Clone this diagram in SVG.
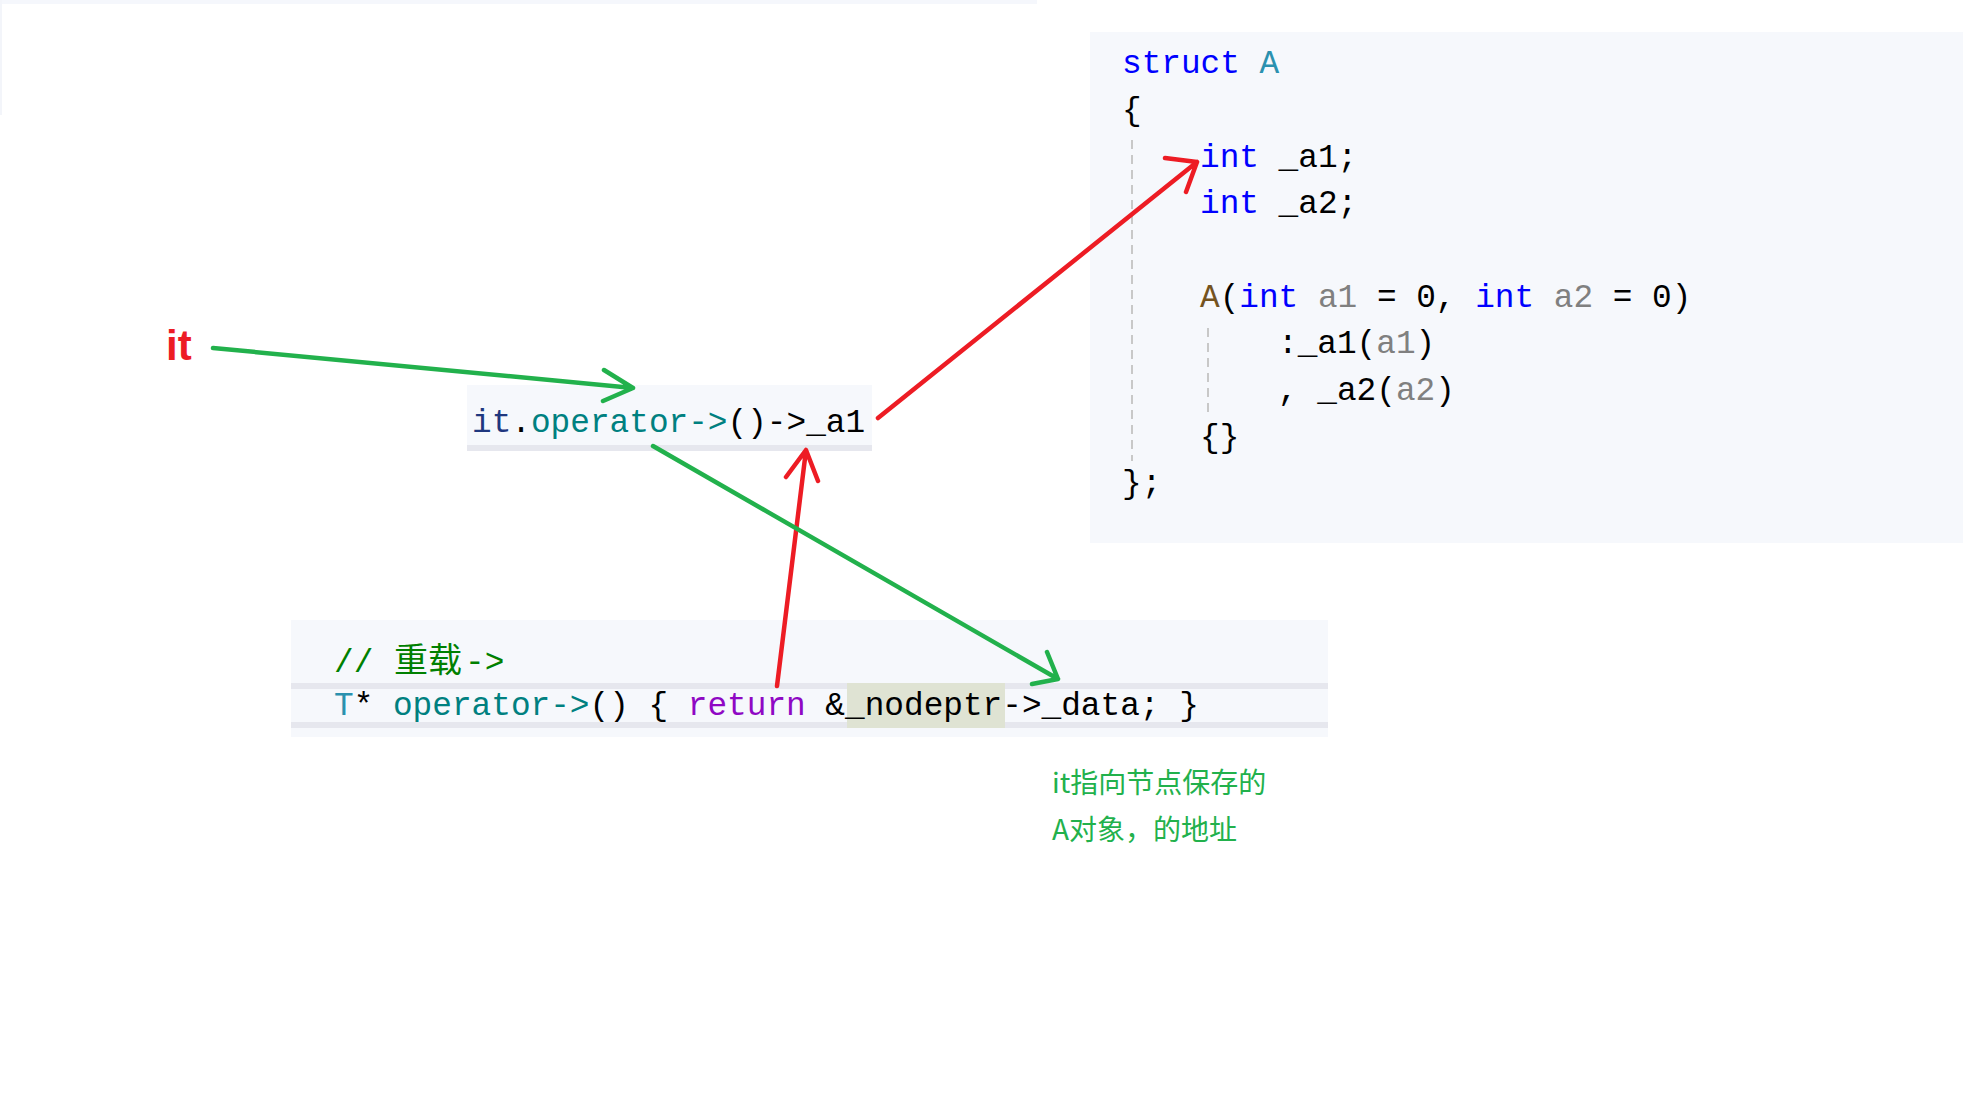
<svg xmlns="http://www.w3.org/2000/svg" width="1963" height="1114" viewBox="0 0 1963 1114">
<style>
.code{font-family:"Liberation Mono","DejaVu Sans Mono",monospace;font-size:32.75px;fill:#000}
.kw{fill:#0000ff}
.ty{fill:#2b91af}
.fn{fill:#74531f}
.pa{fill:#808080}
.op{fill:#008080}
.lv{fill:#1f377f}
.ret{fill:#8f08c4}
.cm{fill:#008000}
.guide{stroke:#c8c8c8;stroke-width:2;stroke-dasharray:9 6;fill:none}
.red{stroke:#ed1c24;stroke-width:4.5;fill:none;stroke-linecap:round;stroke-linejoin:round}
.green{stroke:#22b14c;stroke-width:4.5;fill:none;stroke-linecap:round;stroke-linejoin:round}
.panel{fill:#f6f8fc}
.strip{fill:#e6e7ee}
</style>
<rect width="1963" height="1114" fill="#ffffff"/>
<rect x="0" y="0" width="1037" height="4" fill="#f5f7fc"/>
<rect x="0" y="0" width="2" height="115" fill="#f3f5fa"/>

<g id="node-struct">
<rect class="panel" x="1090" y="32" width="873" height="511"/>
<line class="guide" x1="1132" y1="140" x2="1132" y2="461"/>
<line class="guide" x1="1208" y1="328" x2="1208" y2="415"/>
<text class="code" xml:space="preserve"><tspan x="1122" y="73"><tspan class="kw">struct</tspan> <tspan class="ty">A</tspan></tspan><tspan x="1122" y="120">{</tspan><tspan x="1200" y="167"><tspan class="kw">int</tspan> _a1;</tspan><tspan x="1200" y="213"><tspan class="kw">int</tspan> _a2;</tspan><tspan x="1200" y="307"><tspan class="fn">A</tspan>(<tspan class="kw">int</tspan> <tspan class="pa">a1</tspan> = 0, <tspan class="kw">int</tspan> <tspan class="pa">a2</tspan> = 0)</tspan><tspan x="1278" y="353">:_a1(<tspan class="pa">a1</tspan>)</tspan><tspan x="1278" y="400">, _a2(<tspan class="pa">a2</tspan>)</tspan><tspan x="1200" y="447">{}</tspan><tspan x="1122" y="493">};</tspan></text>
</g>

<g id="node-call">
<rect class="panel" x="467" y="385" width="405" height="61"/>
<rect class="strip" x="467" y="445" width="405" height="6"/>
<text class="code" x="472" y="432" xml:space="preserve"><tspan class="lv">it</tspan>.<tspan class="op">operator-&gt;</tspan>()-&gt;_a1</text>
</g>

<g id="node-operator">
<rect class="panel" x="291" y="620" width="1037" height="117"/>
<rect class="strip" x="291" y="683" width="1037" height="6"/>
<rect class="strip" x="291" y="722" width="1037" height="6"/>
<rect x="847" y="683" width="158" height="45" fill="#dfe3d3"/>
<text class="code cm" xml:space="preserve"><tspan x="334" y="672">// </tspan><tspan x="394" y="672" style="font-family:'Noto Sans CJK SC',sans-serif;font-size:34px">重载</tspan><tspan x="465" y="672">-&gt;</tspan></text>
<text class="code" x="334" y="715" xml:space="preserve"><tspan class="ty">T</tspan>* <tspan class="op">operator-&gt;</tspan>() { <tspan class="ret">return</tspan> &amp;_nodeptr-&gt;_data; }</text>
</g>

<g id="node-it">
<text x="166" y="360" style="font-family:'Liberation Sans',Arial,sans-serif;font-weight:bold;font-size:42px;fill:#ed1c24">it</text>
</g>

<g id="node-note">
<text style="font-family:'Noto Sans CJK SC',sans-serif;font-size:28px;fill:#22b14c"><tspan x="1052" y="793">it指向节点保存的</tspan><tspan x="1052" y="840">A对象，的地址</tspan></text>
</g>

<g id="connectors">
<path class="green" d="M213 348 L633 388 M604 370 L633 388 L603 401"/>
<path class="red" d="M878 418 L1197 162 M1165 158 L1197 162 L1186 192"/>
<path class="red" d="M777 686 L806 450 M786 477 L806 450 L818 481"/>
<path class="green" d="M653 446 L1058 679 M1047 652 L1058 679 L1032 684"/>
</g>
</svg>
